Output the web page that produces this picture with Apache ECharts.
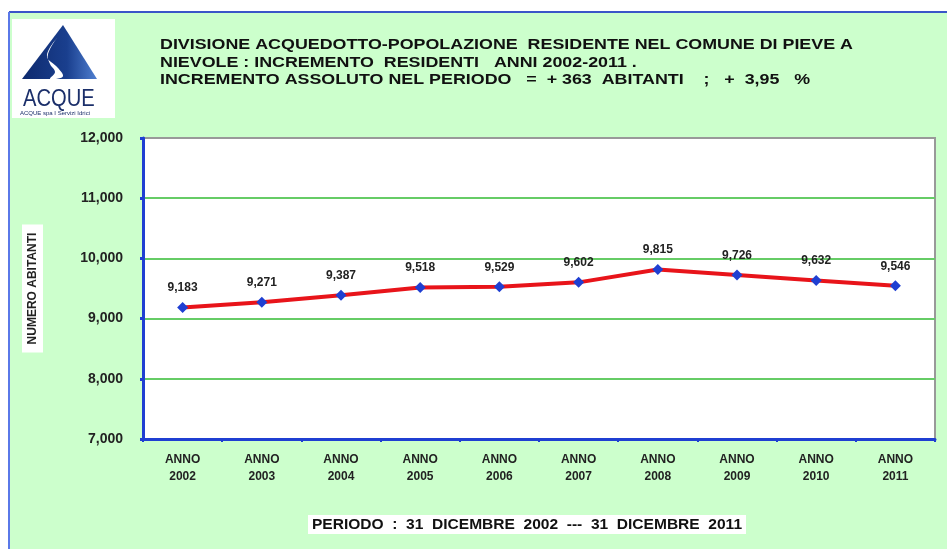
<!DOCTYPE html>
<html lang="it">
<head>
<meta charset="UTF-8">
<title>Popolazione residente Pieve a Nievole</title>
<script src="https://cdn.jsdelivr.net/npm/echarts@6/dist/echarts.min.js"></script>
<style>
  html, body { margin: 0; padding: 0; background: #fff; }
  #chart { width: 947px; height: 549px; }
</style>
</head>
<body>
<div id="chart"></div>
<script>
// dati
var anni = ['2002', '2003', '2004', '2005', '2006', '2007', '2008', '2009', '2010', '2011'];
var residenti = [9183, 9271, 9387, 9518, 9529, 9602, 9815, 9726, 9632, 9546];
var titoloRighe = [
    'DIVISIONE ACQUEDOTTO-POPOLAZIONE  RESIDENTE NEL COMUNE DI PIEVE A',
    'NIEVOLE : INCREMENTO  RESIDENTI   ANNI 2002-2011 .',
    'INCREMENTO ASSOLUTO NEL PERIODO   =  + 363  ABITANTI    ;   +  3,95   %'
];
var periodo = 'PERIODO  :  31  DICEMBRE  2002  ---  31  DICEMBRE  2011';

var blu = '#1f3fd2';
var font = 'Liberation Sans, Arial, sans-serif';

function migliaia(v) {
    return String(v).replace(/\B(?=(\d{3})+(?!\d))/g, ',');
}

var myChart = echarts.init(document.getElementById('chart'));

// le scritte del titolo sono allargate come nell'originale
var titoli = titoloRighe.map(function (t, i) {
    return {
        type: 'text',
        x: 160,
        y: 45 + i * 17.5,
        scaleX: 1.19,
        style: { text: t, font: 'bold 15px ' + font, fill: '#111', verticalAlign: 'middle' }
    };
});

var option = {
    backgroundColor: '#ccffcc',
    animation: false,
    grid: {
        left: 143, right: 12, top: 138, bottom: 110,
        show: true,
        backgroundColor: '#fff',
        borderColor: '#999',
        borderWidth: 2
    },
    xAxis: {
        type: 'category',
        data: anni,
        boundaryGap: true,
        axisLine: { lineStyle: { color: blu, width: 3 } },
        axisTick: { show: true, length: 3, lineStyle: { color: blu, width: 2 } },
        axisLabel: {
            margin: 12,
            fontFamily: font,
            fontWeight: 'bold',
            fontSize: 12,
            lineHeight: 17,
            color: '#222',
            formatter: function (v) { return 'ANNO\n' + v; }
        },
        splitLine: { show: false }
    },
    yAxis: {
        type: 'value',
        min: 7000,
        max: 12000,
        interval: 1000,
        name: 'NUMERO ABITANTI',
        nameLocation: 'middle',
        nameGap: 100,
        nameTextStyle: {
            fontFamily: font,
            fontWeight: 'bold',
            fontSize: 12,
            color: '#222',
            backgroundColor: '#fff',
            padding: [5, 8, 4, 8]
        },
        axisLine: { show: true, lineStyle: { color: blu, width: 3 } },
        axisTick: { show: true, length: 3, lineStyle: { color: blu, width: 3 } },
        axisLabel: {
            margin: 20,
            fontFamily: font,
            fontWeight: 'bold',
            fontSize: 14,
            color: '#222',
            formatter: function (v) { return migliaia(v); }
        },
        splitLine: {
            show: true,
            lineStyle: { color: ['#66cc66', '#66cc66', '#66cc66', '#66cc66', '#66cc66', '#999'], width: 2 }
        }
    },
    series: [{
        name: 'Residenti',
        type: 'line',
        data: residenti,
        symbol: 'diamond',
        symbolSize: 11,
        itemStyle: { color: blu },
        lineStyle: { color: '#e8141a', width: 4 },
        label: {
            show: true,
            position: 'top',
            distance: 8,
            fontFamily: font,
            fontWeight: 'bold',
            fontSize: 12,
            color: '#222',
            formatter: function (p) { return migliaia(p.value); }
        }
    }],
    graphic: [
        // striscia bianca superiore e cornice
        { type: 'rect', shape: { x: 0, y: 0, width: 947, height: 12 }, style: { fill: '#fff' } },
        { type: 'rect', shape: { x: 0, y: 0, width: 9, height: 549 }, style: { fill: '#fff' } },
        { type: 'line', shape: { x1: 9, y1: 12, x2: 947, y2: 12 }, style: { stroke: '#3a55c8', lineWidth: 2 } },
        { type: 'line', shape: { x1: 9, y1: 12, x2: 9, y2: 549 }, style: { stroke: '#5a78e8', lineWidth: 2 } },
        // logo
        { type: 'rect', shape: { x: 12, y: 19, width: 103, height: 99 }, style: { fill: '#fff' } },
        {
            type: 'polygon',
            shape: { points: [[63, 25], [97, 79], [22, 79]] },
            style: {
                fill: new echarts.graphic.LinearGradient(0, 0, 1, 0, [
                    { offset: 0, color: '#0e2a6e' },
                    { offset: 0.6, color: '#1a3f8e' },
                    { offset: 1, color: '#4f7fd0' }
                ])
            }
        },
        {
            type: 'polygon',
            shape: { points: [[57, 38], [47, 56], [58, 68], [63, 76], [56, 79], [50, 79], [55, 72], [50, 64], [48, 54]], smooth: 0.4 },
            style: { fill: '#fff' }
        },
        { type: 'text', x: 23, y: 99, scaleX: 0.84, style: { text: 'ACQUE', font: '24px ' + font, fill: '#1b2f6a', verticalAlign: 'middle' } },
        { type: 'text', x: 20, y: 113, style: { text: 'ACQUE spa I Servizi Idrici', font: '6px ' + font, fill: '#1b2f6a', verticalAlign: 'middle' } }
    ].concat(titoli).concat([
        {
            type: 'rect',
            shape: { x: 308, y: 515, width: 438, height: 19 },
            style: { fill: '#fff' }
        },
        {
            type: 'text',
            x: 527, y: 525,
            scaleX: 1.11,
            style: { text: periodo, font: 'bold 14px ' + font, fill: '#111', align: 'center', verticalAlign: 'middle' }
        }
    ])
};

myChart.setOption(option);
</script>
</body>
</html>
